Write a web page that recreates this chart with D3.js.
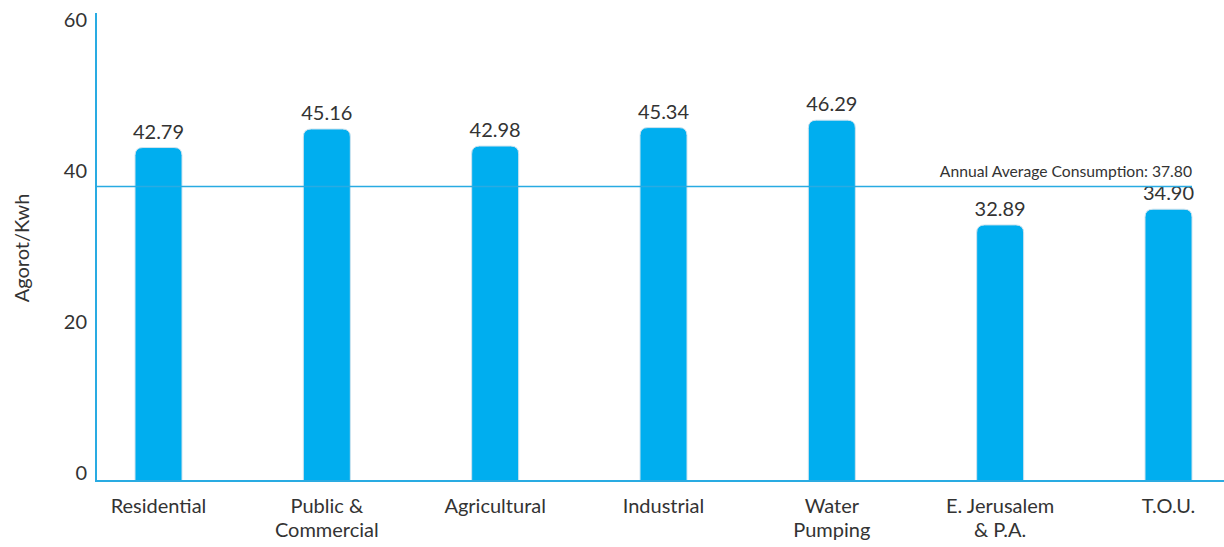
<!DOCTYPE html>
<html>
<head>
<meta charset="utf-8">
<script src="https://cdn.jsdelivr.net/npm/d3@7"></script>
<style>
  body { margin: 0; background: #fff; }
  text { font-family: Lato, "Open Sans", sans-serif; fill: #333; }
</style>
</head>
<body>
<div class="chart"></div>
<script>
// data
var categories = ["Residential", "Public & Commercial", "Agricultural", "Industrial", "Water Pumping", "E. Jerusalem & P.A.", "T.O.U."];
var labelLines = [["Residential"], ["Public &", "Commercial"], ["Agricultural"], ["Industrial"], ["Water", "Pumping"], ["E. Jerusalem", "& P.A."], ["T.O.U."]];
var values = [42.79, 45.16, 42.98, 45.34, 46.29, 32.89, 34.90];
var average = 37.80;
var yTicks = [0, 20, 40, 60];

var width = 1224, height = 547;
var axisX = 96, axisTop = 13, baseY = 481;
var blue = "#00aeef", lineBlue = "#29abe2";
var barW = 47, r = 8;

var svg = d3.select(".chart").append("svg").attr("width", width).attr("height", height);

var x = d3.scalePoint().domain(categories).range([158.5, 1168.5]);
var y = d3.scaleLinear().domain([0, 60]).range([482, 13]);
// tick labels in the original sit on a slightly tighter spacing than the bars
var yLab = d3.scaleLinear().domain([0, 60]).range([475, 22]);

// bars with rounded tops, running down to the axis line
svg.selectAll("path.bar").data(values).enter().append("path")
    .attr("class", "bar")
    .attr("fill", blue)
    .attr("stroke", "#cfe3ee")
    .attr("stroke-width", 1)
    .attr("d", function(d, i) {
        var x0 = x(categories[i]) - barW / 2, x1 = x0 + barW, top = y(d);
        return "M" + x0 + "," + baseY + "V" + (top + r) +
               "Q" + x0 + "," + top + " " + (x0 + r) + "," + top +
               "H" + (x1 - r) + "Q" + x1 + "," + top + " " + x1 + "," + (top + r) +
               "V" + baseY;
    });

// value labels
svg.selectAll("text.val").data(values).enter().append("text")
    .attr("class", "val")
    .attr("x", function(d, i) { return x(categories[i]); })
    .attr("y", function(d) { return y(d) - 9; })
    .attr("text-anchor", "middle")
    .attr("font-size", 20)
    .text(function(d) { return d.toFixed(2); });

// average line
var lastX = x(categories[categories.length - 1]) + barW / 2;
svg.append("line")
    .attr("x1", axisX).attr("x2", lastX)
    .attr("y1", y(average)).attr("y2", y(average))
    .attr("stroke", lineBlue).attr("stroke-width", 1.5);
svg.append("text")
    .attr("x", lastX).attr("y", y(average) - 10)
    .attr("text-anchor", "end")
    .attr("font-size", 15.7)
    .text("Annual Average Consumption: " + average.toFixed(2));

// axes
svg.append("line").attr("x1", axisX).attr("x2", axisX).attr("y1", axisTop).attr("y2", baseY + 1)
    .attr("stroke", lineBlue).attr("stroke-width", 2);
svg.append("line").attr("x1", axisX).attr("x2", width).attr("y1", baseY).attr("y2", baseY)
    .attr("stroke", lineBlue).attr("stroke-width", 2);

svg.selectAll("text.ytick").data(yTicks).enter().append("text")
    .attr("class", "ytick")
    .attr("x", 87).attr("y", function(d) { return yLab(d); })
    .attr("text-anchor", "end")
    .attr("dominant-baseline", "middle")
    .attr("font-size", 20)
    .text(function(d) { return d; });

// category labels
var cat = svg.selectAll("text.cat").data(labelLines).enter().append("text")
    .attr("class", "cat")
    .attr("text-anchor", "middle")
    .attr("font-size", 20)
    .attr("transform", function(d, i) { return "translate(" + x(categories[i]) + ",513)"; });
cat.selectAll("tspan").data(function(d) { return d; }).enter().append("tspan")
    .attr("x", 0)
    .attr("y", function(d, j) { return j * 24; })
    .text(function(d) { return d; });

// y axis title
svg.append("text")
    .attr("transform", "translate(29,248) rotate(-90)")
    .attr("text-anchor", "middle")
    .attr("font-size", 20)
    .text("Agorot/Kwh");
</script>
</body>
</html>
